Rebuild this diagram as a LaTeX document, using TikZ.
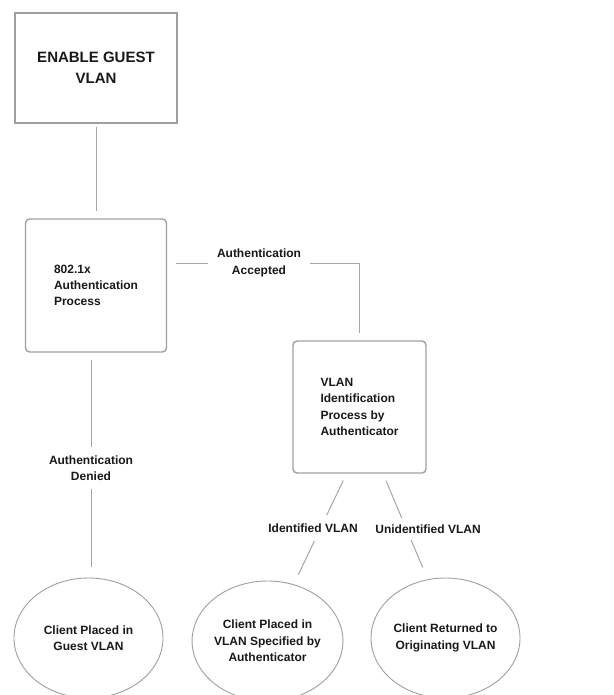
\documentclass[tikz,border=0pt]{standalone}
\usepackage{fontspec}
\setmainfont{Liberation Sans}
\usetikzlibrary{shapes.geometric,calc}

\begin{document}
\begin{tikzpicture}[
    x=1pt, y=-1pt,
    node font=\bfseries,
    box/.style={draw=gray!75, line width=1.4pt, text=black!90, inner sep=0pt},
    procbox/.style={box, rounded corners=4pt, font=\bfseries\fontsize{12}{16.3}\selectfont, align=left},
    result/.style={ellipse, draw=gray!75, line width=0.9pt, text=black!90, minimum width=149pt, minimum height=120pt, inner sep=0pt, font=\bfseries\fontsize{12}{16.3}\selectfont, align=center},
    link/.style={draw=gray!70, line width=1pt},
    lbl/.style={fill=white, text=black!90, font=\bfseries\fontsize{12}{16.3}\selectfont, align=center, inner xsep=2pt, inner ysep=8pt},
]
\useasboundingbox (0,0) rectangle (613,695);

% === Process boxes ===
\node[box, minimum width=162pt, minimum height=110pt, align=center,
      font=\bfseries\fontsize{15}{21}\selectfont] (guestbox) at (96,68) {ENABLE GUEST\\VLAN};
\node[procbox, minimum width=141pt, minimum height=133pt] (authproc) at (96,285.5)
    {802.1x\\Authentication\\Process};
\node[procbox, minimum width=133pt, minimum height=132pt] (vlanid) at (359.5,407)
    {VLAN\\Identification\\Process by\\Authenticator};

% === Outcomes ===
\node[result] (inguest) at (88.5,638) {Client Placed in\\Guest VLAN};
\node[result] (invlan) at (267.5,641) {Client Placed in\\VLAN Specified by\\Authenticator};
\node[result] (backorig) at (445.5,638) {Client Returned to\\Originating VLAN};

% === Connectors ===
\draw[link, shorten <=3pt, shorten >=7pt] (guestbox.south) -- (guestbox.south |- authproc.north);
\draw[link, shorten <=9pt, shorten >=7pt] ([yshift=22.5pt]authproc.east) -| (vlanid.north);
\draw[link, shorten <=7pt, shorten >=11pt] ([xshift=-5pt]authproc.south) -- ([xshift=-5pt]authproc.south |- inguest.north);
\draw[link, shorten <=7.5pt, shorten >=6.5pt] ([xshift=-13pt]vlanid.south) -- ([xshift=28pt]invlan.north);
\draw[link, shorten <=7.5pt, shorten >=11pt] ([xshift=23.5pt]vlanid.south) -- ([xshift=-18.5pt]backorig.north);

% Labels on the connectors
\node[lbl, inner xsep=9pt, inner ysep=2pt] (acclbl) at (259,263) {Authentication\\Accepted};
\node[lbl] (denlbl) at (91,468) {Authentication\\Denied};
\node[lbl, inner ysep=9pt] (idlbl) at (313,528) {Identified VLAN};
\node[lbl, inner ysep=7pt] (unidlbl) at (428,529) {Unidentified VLAN};

\end{tikzpicture}
\end{document}
